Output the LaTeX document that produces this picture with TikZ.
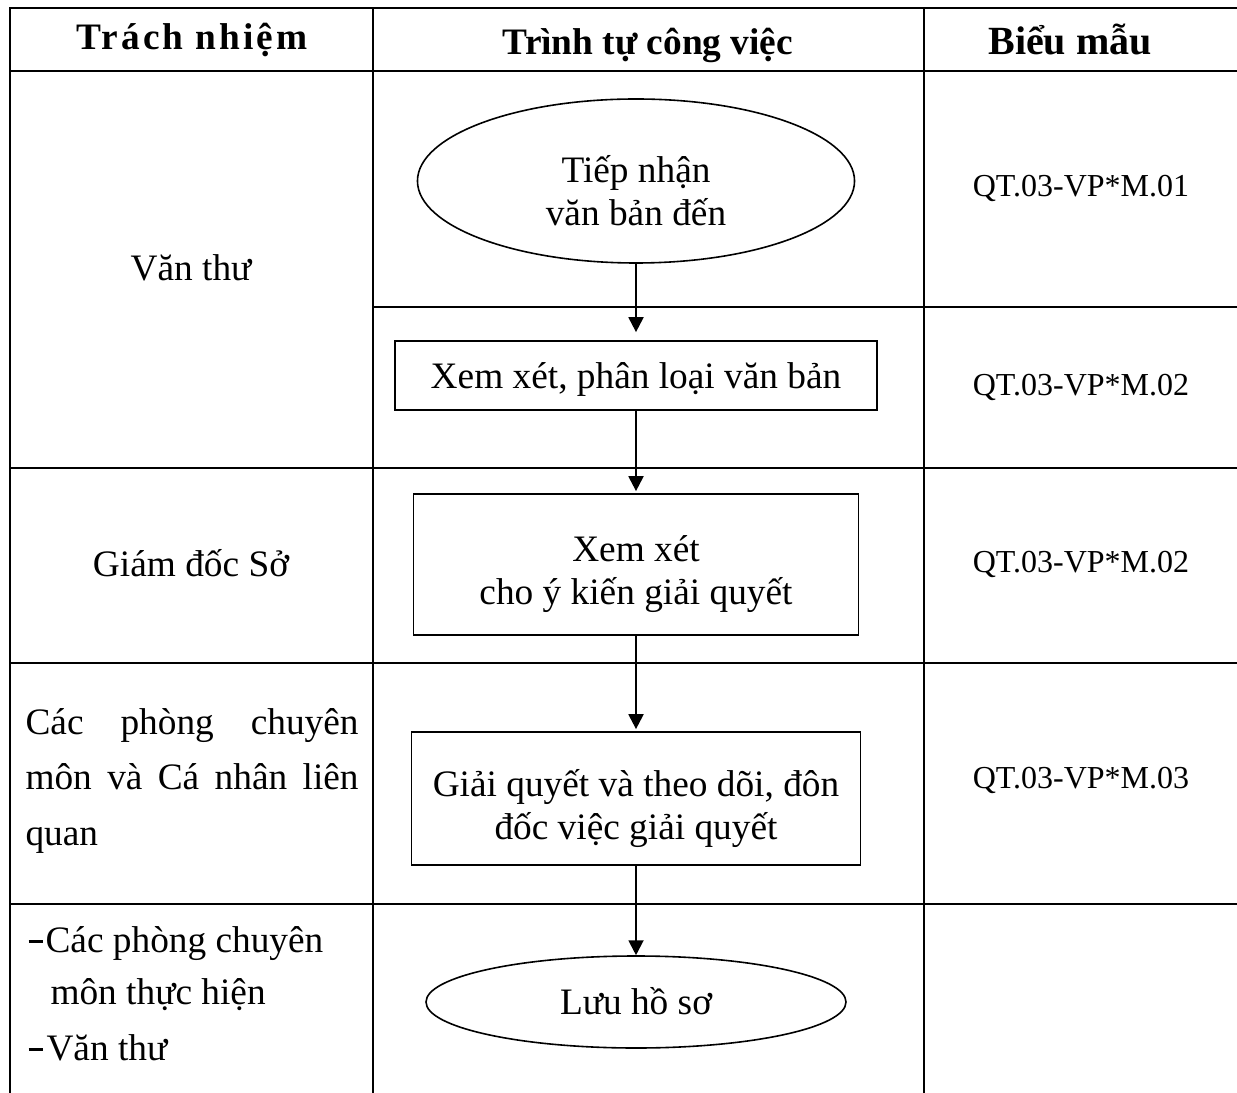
\documentclass[tikz,border=0pt]{standalone}
\usepackage{fontspec}
\setmainfont{Liberation Serif}
\usetikzlibrary{shapes.geometric,arrows.meta}
\newcommand\flowfont{\fontsize{14}{16}\selectfont\lineskiplimit=-\maxdimen}
\newcommand\cellfont{\fontsize{14}{16}\selectfont}
\newcommand\codefont{\fontsize{12}{14}\selectfont}
\newcommand\hdrfont{\fontsize{14}{16}\selectfont\bfseries}
\newcommand\lstdash{\rule[3.3pt]{5.25pt}{1.1pt}}
\begin{document}
\begin{tikzpicture}[x=0.375pt,y=-0.375pt,
  grid/.style={line width=1pt},
  flowbox/.style={draw,line width=0.65pt,rectangle,inner sep=0pt,align=center,font=\flowfont},
  flowoval/.style={draw,line width=0.6pt,ellipse,inner sep=0pt,align=center,font=\flowfont},
  arr/.style={line width=0.8pt,-{Triangle[width=5.6pt,length=5.6pt]}},
  hdr/.style={font=\hdrfont,anchor=base,inner sep=0pt},
  cell/.style={font=\cellfont,anchor=base,inner sep=0pt},
  code/.style={font=\codefont,anchor=base,inner sep=0pt}]
\useasboundingbox (0,0) rectangle (1237,1093);
\fill[white] (0,0) rectangle (1237,1093);
% table grid
\draw[grid] (10,1093) -- (10,8) -- (1237,8);
\draw[grid] (373,8) -- (373,1093);
\draw[grid] (924,8) -- (924,1093);
\draw[grid] (10,71) -- (1237,71);
\draw[grid] (373,307) -- (1237,307);
\draw[grid] (10,468) -- (1237,468);
\draw[grid] (10,663) -- (1237,663);
\draw[grid] (10,904) -- (1237,904);
% headers
\node[hdr] (h1) at (192,50) {\addfontfeature{LetterSpace=8}Trách nhiệm};
\node[hdr] (h2) at (648,55) {Trình tự công việc};
\node[hdr,font=\fontsize{15}{17}\selectfont\bfseries] (h3) at (1070,55) {Biểu mẫu};
% flow
\node[flowoval,minimum width=163.9pt,minimum height=61.5pt] (e1) at (636,181)
  {\rule{0pt}{18.5pt}Tiếp nhận\\văn bản đến\rule[-1pt]{0pt}{1pt}};
\node[flowbox,minimum width=180.75pt,minimum height=25.875pt,text height=11.5pt,text depth=1.375pt] (b1) at (636,375.5)
  {Xem xét, phân loại văn bản};
\node[flowbox,minimum width=166.875pt,minimum height=52.875pt] (b2) at (636,564.5)
  {\rule{0pt}{17.2pt}Xem xét\\cho ý kiến giải quyết\rule[-3.5pt]{0pt}{3.5pt}};
\node[flowbox,minimum width=168.375pt,minimum height=49.875pt] (b3) at (636,798.5)
  {\rule{0pt}{18pt}Giải quyết và theo dõi, đôn\\đốc việc giải quyết\rule[-3.5pt]{0pt}{3.5pt}};
\node[flowoval,minimum width=157.5pt,minimum height=34.5pt,text height=12pt,text depth=3pt] (e2) at (636,1002)
  {Lưu hồ sơ};
\draw[arr,shorten >=3pt] (e1.south) -- (b1.north);
\draw[arr,shorten >=0.75pt] (b1.south) -- (b2.north);
\draw[arr,shorten >=0.75pt] (b2.south) -- (b3.north);
\draw[arr] (b3.south) -- (e2.north);
% responsibility column
\node[cell] (r1) at (191,281) {Văn thư};
\node[cell] (r2) at (191,577) {Giám đốc Sở};
\node[cell,anchor=base west] (r3a) at (25,734) {\makebox[124.9pt][s]{Các phòng chuyên}};
\node[cell,anchor=base west] (r3b) at (25,789.5) {\makebox[124.9pt][s]{môn và Cá nhân liên}};
\node[cell,anchor=base west] (r3c) at (25,845) {quan};
\node[cell,anchor=base west] (d1) at (28,952) {\lstdash};
\node[cell,anchor=base west] (r4a) at (45,952) {Các phòng chuyên};
\node[cell,anchor=base west] (r4b) at (50,1004) {môn thực hiện};
\node[cell,anchor=base west] (d2) at (28,1060) {\lstdash};
\node[cell,anchor=base west] (r4c) at (46,1060) {Văn thư};
% form codes
\node[code] (c1) at (1081,196.5) {QT.03-VP*M.01};
\node[code] (c2) at (1081,395.5) {QT.03-VP*M.02};
\node[code] (c3) at (1081,573) {QT.03-VP*M.02};
\node[code] (c4) at (1081,788.5) {QT.03-VP*M.03};
\end{tikzpicture}
\end{document}
